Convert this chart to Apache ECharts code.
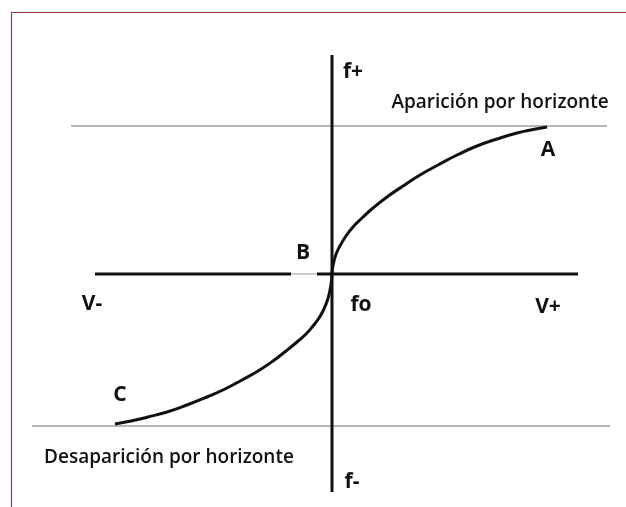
<html>
<head>
	<meta charset="UTF-8">
	<script src="https://cdn.jsdelivr.net/npm/echarts@6/dist/echarts.min.js"></script>
</head>
<body style="margin:0;background:#fff;">
<div id="chart" style="width:626px;height:507px;"></div>
<script type="text/javascript">

        // curva de frecuencia: de C (abajo a la izquierda) pasando por fo hasta A
        curve_data = [
            [-217, -150], [-201, -147], [-184, -143], [-165, -138], [-145, -131],
            [-125, -123], [-107, -115], [-90, -106], [-74, -97], [-59, -87],
            [-46, -77], [-35, -68], [-26, -60], [-19, -52], [-13, -44],
            [-8.5, -36], [-4.5, -26], [-2, -16], [-0.6, -7],
            [0, 0],
            [0.6, 6], [2, 13], [4.5, 21], [8.5, 29], [14, 38], [21, 47],
            [30, 56], [41, 66], [55, 77], [71, 88], [88, 99], [106, 109],
            [125, 119], [145, 128], [165, 135], [185, 141], [201, 144.5],
            [215, 147]
        ]

        // ejes f y V
        axis_f = [[0, 219], [0, -218]]
        axis_v_left = [[-237, 0], [-41, 0]]
        axis_v_gap = [[-41, 0], [-15, 0]]
        axis_v_right = [[-15, 0], [246, 0]]

        // lineas de horizonte
        horizon_top = [[-261, 148], [275, 148]]
        horizon_bottom = [[-300, -152], [278, -152]]

        // etiquetas: [x, y, texto]
        labels_bold = [
            [21, 202, 'f+'],
            [216, 124, 'A'],
            [-29, 21, 'B'],
            [-240, -30, 'V-'],
            [29, -31, 'fo'],
            [216, -33, 'V+'],
            [-212, -121, 'C'],
            [20, -208, 'f-']
        ]
        labels_normal = [
            [168, 171, 'Aparición por horizonte'],
            [-163, -184, 'Desaparición por horizonte']
        ]

        var myChart = echarts.init(document.getElementById('chart'));

        function lineSeries(data, width, color) {
            return {
                type: 'line',
                data: data,
                symbol: 'none',
                silent: true,
                lineStyle: {width: width, color: color},
                z: 2
            }
        }

        function labelSeries(data, size, weight) {
            return {
                type: 'scatter',
                data: data.map(function (d) { return {value: [d[0], d[1]], name: d[2]} }),
                symbolSize: 0,
                silent: true,
                itemStyle: {opacity: 1},
                label: {
                    show: true,
                    position: 'inside',
                    formatter: '{b}',
                    fontFamily: 'Open Sans',
                    fontSize: size,
                    fontWeight: weight,
                    color: '#111',
                    opacity: 1,
                    textBorderWidth: 0
                },
                z: 5
            }
        }

        option = {
            animation: false,
            grid: {left: 0, right: 0, top: 0, bottom: 0},
            xAxis: {type: 'value', min: -332, max: 294, show: false},
            yAxis: {type: 'value', min: -233, max: 274, show: false},
            graphic: [{
                type: 'polyline',
                shape: {points: [[11.5, 507], [11.5, 12.5], [626, 12.5]]},
                style: {stroke: '#9a3a3a', lineWidth: 1.2, fill: null}
            }],
            series: [
                lineSeries(horizon_top, 1.2, '#6e6e6e'),
                lineSeries(horizon_bottom, 1.2, '#6e6e6e'),
                lineSeries(axis_f, 3, '#111'),
                lineSeries(axis_v_left, 3, '#111'),
                lineSeries(axis_v_gap, 1, '#999'),
                lineSeries(axis_v_right, 3, '#111'),
                {
                    type: 'line',
                    data: curve_data,
                    symbol: 'none',
                    smooth: 0.5,
                    silent: true,
                    lineStyle: {width: 3, color: '#111'},
                    z: 3
                },
                labelSeries(labels_bold, 21, 'bold'),
                labelSeries(labels_normal, 19, 600)
            ]
        };

        myChart.setOption(option);

</script>
</body>
</html>
